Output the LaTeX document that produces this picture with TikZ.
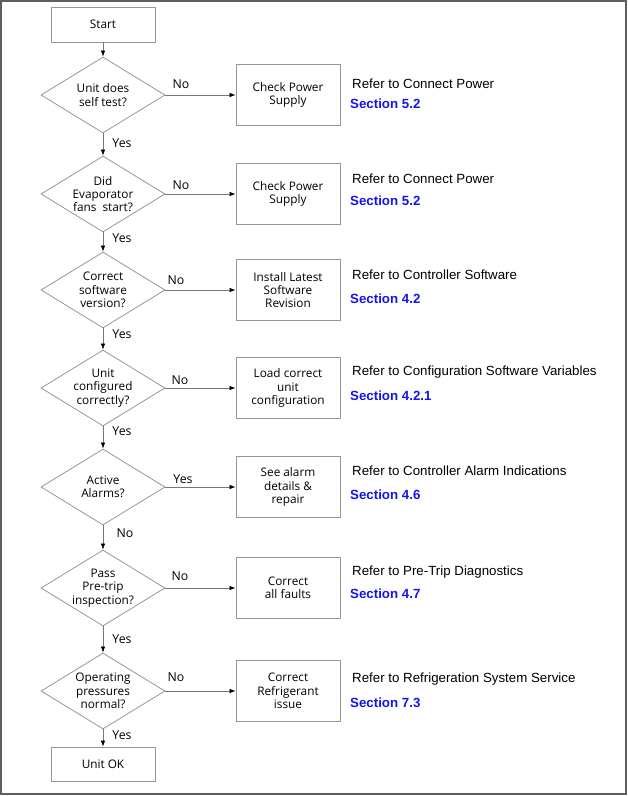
\documentclass[tikz,border=0pt]{standalone}
\usepackage{fontspec}
\setmainfont{Liberation Sans}
\newfontfamily\nodefont{Open Sans}
\usetikzlibrary{shapes.geometric,arrows.meta,positioning}
\definecolor{shapegray}{RGB}{150,150,150}
\definecolor{linegray}{RGB}{120,120,120}
\definecolor{framegray}{RGB}{95,95,95}
\definecolor{secblue}{RGB}{20,20,235}
\tikzset{
  dia/.style={draw=shapegray, line width=0.8pt, shape=diamond, inner sep=0pt,
    minimum width=124pt, minimum height=76pt},
  dlabel/.style={font=\nodefont\fontsize{11.8}{13.3}\selectfont, align=center, inner sep=0pt},
  box/.style={draw=shapegray, line width=0.8pt, rectangle, minimum width=104pt, minimum height=61pt,
    font=\nodefont\fontsize{11.8}{13.3}\selectfont, align=center, inner sep=0pt},
  termbox/.style={box, minimum height=35pt},
  conn/.style={draw=linegray, line width=0.7pt, -{Latex[length=6pt,width=4.5pt,color=black]}},
  yn/.style={font=\nodefont\fontsize{12.3}{13}\selectfont, inner sep=0pt},
  refer/.style={font=\fontsize{13.3}{15}\selectfont, anchor=west, inner sep=0pt},
  sect/.style={font=\bfseries\fontsize{13.3}{15}\selectfont, text=secblue, anchor=west, inner sep=0pt}
}
\begin{document}
\begin{tikzpicture}[x=1pt,y=-1pt]
\useasboundingbox (0,0) rectangle (628,796);
\draw[framegray, line width=2pt] (1,1) rectangle (626,794);

% left column
\node[termbox] (start) at (103,24.5) {Start};
\node[dia] (d1) at (103,95) {};
\node[dlabel] (t1) at (d1.center) {Unit does\\self test?};
\node[dia] (d2) at (103,194) {};
\node[dlabel] (t2) at (d2.center) {Did\\Evaporator\\fans\ \ start?};
\node[dia] (d3) at (103,290) {};
\node[dlabel] (t3) at (d3.center) {Correct\\software\\version?};
\node[dia] (d4) at (103,388) {};
\node[dlabel] (t4) at (d4.center) {Unit\\configured\\correctly?};
\node[dia] (d5) at (103,487) {};
\node[dlabel] (t5) at (d5.center) {Active\\Alarms?};
\node[dia] (d6) at (103,588) {};
\node[dlabel] (t6) at (d6.center) {Pass\\Pre-trip\\inspection?};
\node[dia] (d7) at (103,691) {};
\node[dlabel] (t7) at (d7.center) {Operating\\pressures\\normal?};
\node[termbox, minimum height=34pt] (ok) at (103,764) {Unit OK};

% right boxes
\node[box] (b1) at (288,95) {Check Power\\Supply};
\node[box] (b2) at (288,194) {Check Power\\Supply};
\node[box] (b3) at (288,290) {Install Latest\\Software\\Revision};
\node[box] (b4) at (288,388) {Load correct\\unit\\configuration};
\node[box] (b5) at (288,487) {See alarm\\details \&\\repair};
\node[box] (b6) at (288,588) {Correct\\all faults};
\node[box] (b7) at (288,691) {Correct\\Refrigerant\\issue};

% vertical connectors
\draw[conn] (start) -- (d1);
\draw[conn] (d1) -- (d2);
\draw[conn] (d2) -- (d3);
\draw[conn] (d3) -- (d4);
\draw[conn] (d4) -- (d5);
\draw[conn] (d5) -- (d6);
\draw[conn] (d6) -- (d7);
\draw[conn] (d7) -- (ok);

% horizontal connectors
\draw[conn] (d1.east) -- (b1.west);
\draw[conn] (d2.east) -- (b2.west);
\draw[conn] (d3.east) -- (b3.west);
\draw[conn] (d4.east) -- (b4.west);
\draw[conn] (d5.east) -- (b5.west);
\draw[conn] (d6.east) -- (b6.west);
\draw[conn] (d7.east) -- (b7.west);

% yes / no labels
\node[yn] (n1) at (181,84) {No};
\node[yn] (n2) at (181,185) {No};
\node[yn] (n3) at (176,280) {No};
\node[yn] (n4) at (180,380) {No};
\node[yn] (n5) at (183,479) {Yes};
\node[yn] (n6) at (180,576) {No};
\node[yn] (n7) at (176,677) {No};
\node[yn] (y1) at (122,143) {Yes};
\node[yn] (y2) at (122,238) {Yes};
\node[yn] (y3) at (122,334) {Yes};
\node[yn] (y4) at (122,431) {Yes};
\node[yn] (y5) at (125,533) {No};
\node[yn] (y6) at (122,639) {Yes};
\node[yn] (y7) at (122,735) {Yes};

% references
\node[refer] (r1) at (352,84) {Refer to Connect Power};
\node[sect]  (s1) at (350,104) {Section 5.2};
\node[refer] (r2) at (352,179) {Refer to Connect Power};
\node[sect]  (s2) at (350,201) {Section 5.2};
\node[refer] (r3) at (352,275) {Refer to Controller Software};
\node[sect]  (s3) at (350,299) {Section 4.2};
\node[refer] (r4) at (352,372) {Refer to Configuration Software Variables};
\node[sect]  (s4) at (350,396) {Section 4.2.1};
\node[refer] (r5) at (352,471) {Refer to Controller Alarm Indications};
\node[sect]  (s5) at (350,495) {Section 4.6};
\node[refer] (r6) at (352,572) {Refer to Pre-Trip Diagnostics};
\node[sect]  (s6) at (350,594) {Section 4.7};
\node[refer] (r7) at (352,679) {Refer to Refrigeration System Service};
\node[sect]  (s7) at (350,703) {Section 7.3};
\end{tikzpicture}
\end{document}
